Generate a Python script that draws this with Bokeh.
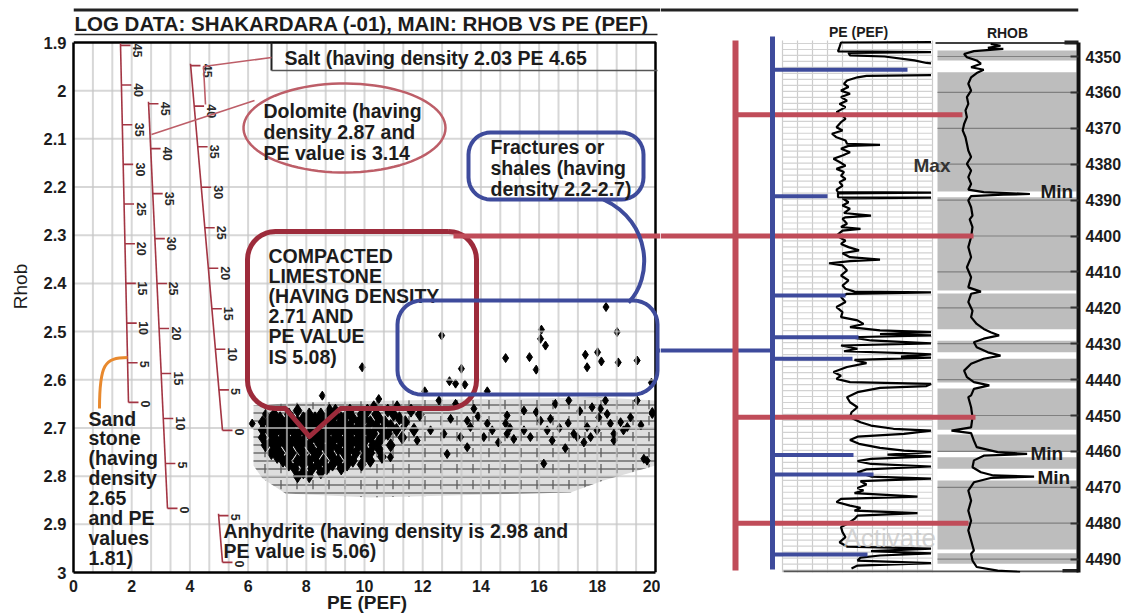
import numpy as np
from bokeh.plotting import figure
from bokeh.models import Range1d, FixedTicker, NumeralTickFormatter
from bokeh.layouts import row
from bokeh.embed import file_html
from bokeh.resources import INLINE
from bokeh.core.properties import value

# ---------------------------------------------------------------- data
title_text = "LOG DATA: SHAKARDARA (-01), MAIN: RHOB VS PE (PEF)"
pe_ticks = [0, 2, 4, 6, 8, 10, 12, 14, 16, 18, 20]
rhob_ticks = [1.9, 2.0, 2.1, 2.2, 2.3, 2.4, 2.5, 2.6, 2.7, 2.8, 2.9, 3.0]
depth_ticks = [4350, 4360, 4370, 4380, 4390, 4400, 4410, 4420, 4430, 4440,
               4450, 4460, 4470, 4480, 4490]
porosity_ticks = [45, 40, 35, 30, 25, 20, 15, 10, 5, 0]
anhydrite_ticks = [5, 0]

# crossplot points (PE, RHOB) - scattered points
sparse_pe = [12.65, 13.33, 12.92, 13.13, 13.45, 12.07, 14.22, 14.85, 15.67, 15.90, 16.08,
             16.05, 16.22, 17.59, 17.65, 18.01, 18.14, 18.30, 18.68, 18.72, 19.37, 19.86,
             9.92, 8.55, 10.49, 10.32, 11.12, 6.60, 6.14, 9.00,
             13.76, 14.90, 15.48, 16.56, 17.02, 17.82, 18.28, 19.37, 19.89,
             12.96, 13.53, 13.64, 14.22, 14.39, 14.85, 14.90, 15.13, 16.05, 16.39, 16.28, 16.45,
             17.19, 17.31, 17.65, 17.99, 18.05, 18.34, 18.45, 18.57, 19.03, 19.14,
             19.60, 19.71, 16.16, 12.84, 13.53, 13.30, 12.73, 14.10, 15.48, 15.70,
             17.77, 17.54, 18.57, 18.11, 18.80,
             11.92, 12.56, 12.27, 10.89, 11.81, 11.35, 19.89, 13.13,
             15.0, 16.7, 17.0, 14.6, 16.9, 18.9, 19.5, 13.9, 15.9, 17.4]
sparse_rhob = [2.508, 2.577, 2.603, 2.608, 2.610, 2.624, 2.624, 2.555, 2.553, 2.579, 2.496,
               2.515, 2.529, 2.548, 2.574, 2.543, 2.562, 2.449, 2.501, 2.564, 2.560, 2.606,
               2.574, 2.633, 2.640, 2.653, 2.653, 2.671, 2.691, 2.660,
               2.660, 2.674, 2.664, 2.650, 2.643, 2.657, 2.643, 2.643, 2.671,
               2.681, 2.685, 2.698, 2.691, 2.705, 2.691, 2.712, 2.723, 2.685, 2.681, 2.705, 2.726,
               2.712, 2.719, 2.698, 2.705, 2.678, 2.671, 2.691, 2.712, 2.698, 2.678,
               2.764, 2.768, 2.774, 2.754, 2.740, 2.719, 2.712, 2.719, 2.705, 2.719,
               2.719, 2.730, 2.726, 2.660, 2.688,
               2.671, 2.643, 2.705, 2.761, 2.726, 2.698, 2.667, 2.650,
               2.700, 2.700, 2.690, 2.730, 2.742, 2.705, 2.694, 2.676, 2.667, 2.665]

# dense limestone cluster: RHOB level and the PE readings at that level
cluster_levels = [2.664, 2.672, 2.680, 2.688, 2.696, 2.704, 2.712, 2.720, 2.728,
                  2.736, 2.744, 2.752, 2.760, 2.768, 2.776, 2.784, 2.792, 2.800]
cluster_pe_rows = [
    [7.7, 8.8, 9.5, 10.1, 10.8, 11.6],
    [6.9, 7.4, 8.1, 8.5, 9.0, 9.4, 9.9, 10.4, 11.0, 11.9],
    [6.8, 7.1, 7.5, 7.9, 8.3, 8.7, 9.2, 9.6, 10.0, 10.5, 11.2],
    [6.5, 6.7, 7.0, 7.3, 7.7, 8.1, 8.5, 8.9, 9.3, 9.8, 10.2, 10.7, 11.4],
    [6.8, 7.2, 7.5, 7.9, 8.3, 8.7, 9.1, 9.5, 9.9, 10.4, 10.9],
    [6.5, 6.7, 7.0, 7.4, 7.8, 8.1, 8.5, 8.9, 9.3, 9.7, 10.1, 10.6, 11.1, 11.7],
    [6.8, 7.2, 7.6, 8.0, 8.4, 8.7, 9.1, 9.5, 9.9, 10.3, 10.8],
    [6.5, 6.9, 7.3, 7.7, 8.2, 8.6, 9.0, 9.4, 9.8, 10.2, 10.6, 11.3],
    [6.8, 7.1, 7.5, 7.9, 8.4, 8.8, 9.2, 9.6, 10.0, 10.5],
    [6.6, 6.9, 7.3, 7.7, 8.1, 8.5, 8.9, 9.4, 9.8, 10.3, 10.9],
    [7.0, 7.4, 7.8, 8.2, 8.7, 9.1, 9.5, 10.0, 10.5],
    [6.8, 7.1, 7.5, 7.9, 8.4, 8.8, 9.3, 9.7, 10.2],
    [7.0, 7.4, 7.9, 8.3, 8.9, 9.4, 10.0, 10.6],
    [7.2, 7.7, 8.1, 8.6, 9.1, 9.6, 10.2],
    [7.4, 7.9, 8.4, 8.9, 9.4, 9.9],
    [7.6, 8.2, 8.7, 9.2],
    [7.9, 8.5],
    [7.7, 8.1],
]

# lithology porosity scales: (PE, RHOB) at first tick and at zero porosity
sandstone_scale = [(1.615, 1.906), (1.890, 2.647)]
dolomite_scale = [(2.577, 2.027), (3.230, 2.867)]
limestone_scale = [(4.021, 1.948), (5.120, 2.705)]
anhydrite_scale = [(4.983, 2.882), (5.120, 2.979)]

NAN = float("nan")
# well log: (depth, PE)
pe_log = [
    (4346.0, 9.9), (4346.1, 3.9), (4347.4, 3.8), (4348.6, 3.7), (4348.8, 9.9), (4349.0, 4.4),
    (4349.7, 4.5), (4350.0, 6.8), (4351.1, 8.8), (4351.8, 9.6), (4351.9, 9.9), (NAN, NAN),
    (4355.2, 9.9), (4355.4, 5.6), (4355.8, 5.0), (4356.7, 4.3), (4357.6, 4.1), (4358.5, 4.4),
    (4359.5, 3.9), (4360.4, 4.5), (4361.3, 3.9), (4362.3, 4.3), (4363.2, 3.8), (4364.1, 4.2),
    (4365.5, 3.6), (4366.4, 4.0), (4367.4, 4.2), (4368.3, 3.9), (4369.7, 3.6), (4370.6, 4.0),
    (4371.5, 3.3), (4372.5, 3.6), (4373.4, 4.2), (4374.3, 4.3), (4374.6, 6.5), (4374.9, 4.4),
    (4375.7, 3.9), (4376.7, 4.5), (4377.6, 4.0), (4378.5, 3.4), (4379.4, 3.8), (4380.4, 4.2),
    (4381.3, 3.6), (4382.2, 4.1), (4383.2, 3.9), (4384.1, 4.2), (4385.0, 3.8), (4386.0, 4.0),
    (4387.1, 3.6), (4387.8, 3.7), (4387.9, 9.9), (4388.1, 3.7), (4389.2, 3.7), (4389.3, 9.9),
    (4389.5, 4.0), (4390.6, 4.4), (4391.5, 4.0), (4392.4, 4.5), (4393.6, 4.1), (4394.3, 5.9),
    (4394.8, 4.2), (4395.2, 4.0), (4396.6, 4.3), (4397.5, 3.9), (4398.0, 5.2), (4398.5, 4.0),
    (4399.9, 3.6), (4401.3, 4.2), (4402.2, 3.9), (4403.1, 4.4), (4404.0, 5.1), (4404.8, 4.0),
    (4405.9, 4.5), (4406.6, 6.5), (4407.0, 4.5), (4407.6, 3.1), (4408.2, 4.0), (4409.6, 4.3),
    (4411.0, 3.9), (4412.4, 4.4), (4413.8, 4.0), (4414.7, 4.2), (4415.5, 4.8), (4415.7, 9.9),
    (4416.1, 4.3), (4417.0, 3.9), (4418.4, 4.2), (4419.8, 3.6), (4421.2, 4.0), (4422.6, 3.9),
    (4423.5, 5.0), (4424.5, 5.4), (4425.4, 4.5), (4426.3, 6.5), (4426.8, 9.9), (4427.3, 6.5),
    (4427.7, 9.9), (4428.2, 4.5), (4429.1, 5.9), (4429.9, 9.9), (4430.5, 3.9), (4431.4, 5.0),
    (4432.1, 4.1), (4432.6, 8.1), (4433.0, 9.9), (4433.6, 7.9), (4433.9, 9.9), (4434.5, 4.8),
    (4435.4, 5.6), (4436.5, 4.3), (4437.9, 3.4), (4438.9, 3.9), (4439.8, 3.6), (4440.7, 4.5),
    (4441.2, 9.9), (4441.8, 9.6), (4442.3, 6.5), (4443.5, 5.0), (4444.9, 4.3), (4446.3, 4.5),
    (4447.7, 5.0), (4449.1, 4.6), (4450.5, 4.5), (4451.9, 5.2), (4452.8, 5.9), (4453.7, 7.4),
    (4454.2, 9.9), (4455.1, 8.1), (4455.9, 5.0), (4456.8, 4.5), (4457.9, 5.1), (4459.0, 6.5),
    (4459.8, 8.1), (4460.2, 9.9), (4460.9, 7.0), (4461.4, 9.9), (4462.1, 5.9), (4462.7, 5.0),
    (4463.5, 5.9), (4464.2, 9.9), (4465.0, 5.6), (4465.8, 5.0), (4467.0, 5.9), (4467.6, 9.9),
    (4468.3, 5.2), (4469.2, 5.6), (4470.2, 5.0), (4470.9, 5.4), (4471.6, 4.8), (4472.6, 9.0),
    (4473.2, 3.9), (4474.1, 3.6), (4475.1, 4.5), (4475.7, 5.2), (4476.5, 4.8), (4477.2, 9.0),
    (4477.9, 5.0), (4478.8, 4.8), (4480.2, 4.3), (4481.1, 3.9), (4482.5, 4.0), (4483.9, 4.2),
    (4485.3, 3.8), (4486.5, 4.3), (4487.1, 9.9), (4487.8, 5.9), (4488.4, 9.9), (4489.0, 6.5),
    (4489.6, 5.2), (4490.4, 5.0), (4491.1, 9.9), (4491.8, 5.0), (4492.6, 4.6),
]
# well log: (depth, RHOB)
rhob_log = [
    (4346.5, 2.57), (4347.0, 2.50), (4347.6, 2.59), (4347.9, 2.48), (4348.5, 2.69), (4349.3, 2.76),
    (4350.2, 2.74), (4351.1, 2.67), (4352.0, 2.64), (4353.0, 2.71), (4353.7, 2.62), (4354.6, 2.67),
    (4355.8, 2.71), (4357.6, 2.73), (4359.5, 2.71), (4361.3, 2.74), (4363.2, 2.73), (4365.0, 2.75),
    (4366.9, 2.74), (4368.8, 2.76), (4370.6, 2.77), (4372.5, 2.75), (4374.3, 2.74), (4376.2, 2.73),
    (4378.0, 2.71), (4379.9, 2.74), (4381.8, 2.71), (4383.6, 2.73), (4385.5, 2.71), (4387.1, 2.73),
    (4387.8, 2.62), (4388.3, 2.29), (4388.5, 2.48), (4388.9, 2.71), (4390.1, 2.73), (4392.0, 2.71),
    (4394.3, 2.70), (4395.4, 2.72), (4397.5, 2.70), (4400.3, 2.71), (4403.1, 2.73), (4405.9, 2.71),
    (4408.7, 2.74), (4411.5, 2.71), (4414.3, 2.73), (4415.5, 2.64), (4416.1, 2.71), (4418.4, 2.73),
    (4420.8, 2.70), (4422.6, 2.71), (4424.5, 2.67), (4425.9, 2.62), (4426.8, 2.57), (4427.7, 2.51),
    (4428.6, 2.62), (4429.6, 2.69), (4431.0, 2.67), (4432.4, 2.59), (4433.3, 2.50), (4434.2, 2.62),
    (4435.6, 2.71), (4437.5, 2.76), (4439.3, 2.74), (4440.7, 2.69), (4441.6, 2.58), (4442.6, 2.69),
    (4444.4, 2.71), (4444.9, 2.73), (4447.7, 2.71), (4450.5, 2.70), (4453.3, 2.71), (4454.2, 2.85),
    (4454.9, 2.71), (4457.0, 2.69), (4458.8, 2.67), (4460.2, 2.52), (4460.7, 2.31), (4461.2, 2.62),
    (4462.5, 2.69), (4464.4, 2.70), (4465.8, 2.64), (4466.7, 2.55), (4467.0, 2.26), (4467.4, 2.57),
    (4468.6, 2.69), (4470.9, 2.73), (4473.7, 2.71), (4476.5, 2.73), (4479.3, 2.71), (4482.0, 2.73),
    (4484.8, 2.71), (4487.6, 2.69), (4488.5, 2.71), (4490.4, 2.70), (4492.2, 2.67), (4493.2, 2.52),
    (4493.6, 2.36),
]
# shaded (dense) intervals of the RHOB track
shade_top = [4348.3, 4354.4, 4389.2, 4416.0, 4429.2, 4434.2, 4442.5, 4455.3, 4461.6, 4468.1, 4488.4]
shade_bottom = [4351.1, 4387.6, 4415.2, 4426.0, 4432.4, 4440.8, 4454.0, 4460.0, 4464.8, 4487.3, 4491.3]

# depth markers linking the crossplot to the log
red_marks = [4366.2, 4450.5, 4480.0]
blue_marks = [4353.7, 4388.9, 4416.6, 4428.2, 4434.2, 4461.0, 4466.4, 4488.7]

# ---------------------------------------------------------------- layout helpers (page px -> units)
FONT = "Liberation Sans"


def lx(px):
    return (px - 73.0) / 29.1


def ly(py):
    return 1.9 + (py - 42.0) / 481.8


def rx(px):
    return (px - 782.0) / 15.0


def ry(py):
    return 4350.0 + (py - 56.0) / 3.59


def rhob_x(px):
    return 2.95 - (px - 937.0) / 140.0


RED_BOX = "#9d2b3b"
RED_LINK = "#c04c59"
BLUE = "#3e4b9c"
ORANGE = "#e8892e"
SCALE_RED = "#a33543"
ELLIPSE = "#bd5e68"
TXT = "#1c1c1c"


def add_text(p, x, y, s, size="19.5px", color=TXT, align="left", style="bold",
             angle=0.0, alpha=1.0, baseline="middle"):
    p.text(x=[x], y=[y], text=[s], text_font=value(FONT), text_font_size=size,
           text_font_style=style, text_color=color, text_align=align,
           text_baseline=baseline, angle=angle, text_alpha=alpha)


def rounded(x0, y0, x1, y1, r, notch=None):
    pts = []

    def arc(cx, cy, a0, a1):
        for a in np.linspace(a0, a1, 10):
            pts.append((cx + r * np.cos(a), cy + r * np.sin(a)))

    arc(x1 - r, y0 + r, -np.pi / 2, 0)
    arc(x1 - r, y1 - r, 0, np.pi / 2)
    if notch:
        pts.extend(notch)
    arc(x0 + r, y1 - r, np.pi / 2, np.pi)
    arc(x0 + r, y0 + r, np.pi, 1.5 * np.pi)
    pts.append(pts[0])
    return [lx(a) for a, b in pts], [ly(b) for a, b in pts]


# ================================================================ crossplot figure
p1 = figure(width=660, height=616, x_range=Range1d(0, lx(660)), y_range=Range1d(3.0, ly(0)),
            toolbar_location=None, output_backend="svg", title=None,
            min_border_left=73, min_border_right=0, min_border_top=0, min_border_bottom=44)
p1.outline_line_color = None
p1.grid.visible = False
p1.background_fill_color = "white"

# limestone lithology (brick) region
brick = [(253, 405), (253, 465), (262, 478), (285, 493), (370, 497), (570, 492), (603, 480),
         (655, 465), (655, 400), (600, 397), (450, 399), (300, 402)]
bx = [lx(a) for a, b in brick]
by = [ly(b) for a, b in brick]
p1.patch(bx, by, fill_color="#dedede", line_color=None, hatch_pattern="horizontal_line",
         hatch_color="#5a5a5a", hatch_scale=8, hatch_weight=1.3)
p1.patch(bx, by, fill_color=None, fill_alpha=0, line_color=None, hatch_pattern="vertical_dash",
         hatch_color="#5a5a5a", hatch_scale=16, hatch_weight=1.3)

# points
cl_pe, cl_rhob = [], []
for lev, pes in zip(cluster_levels, cluster_pe_rows):
    cl_pe.extend(pes)
    cl_rhob.extend([lev] * len(pes))
p1.scatter(cl_pe, cl_rhob, marker="diamond", size=13, color="black")
p1.scatter(sparse_pe, sparse_rhob, marker="diamond", size=9, color="black")

# grid (drawn over points as in the original)
gx = [k * 2.0 / 3.0 for k in range(1, 30)]
p1.multi_line([[g, g] for g in gx], [[1.9, 3.0] for g in gx], line_color="#c6c6c6",
              line_width=2, line_alpha=0.7)
gy = rhob_ticks[1:-1]
p1.multi_line([[0, 20] for g in gy], [[g, g] for g in gy], line_color="#c6c6c6",
              line_width=2, line_alpha=0.7)

# frame top/right
p1.line([0, 20, 20], [1.9, 1.9, 3.0], line_color="black", line_width=2.5)
# page border (top)
p1.line([0, lx(660)], [ly(9.5), ly(9.5)], line_color="#222222", line_width=3)

# title
add_text(p1, lx(74), ly(23), title_text, size="20.5px")
p1.line([lx(74), lx(657)], [ly(34), ly(34)], line_color="#222222", line_width=1.6)

# porosity scales
tick_len = 10 / 29.1
for (top, zero), ticks in [((sandstone_scale[0], sandstone_scale[1]), porosity_ticks),
                           ((dolomite_scale[0], dolomite_scale[1]), porosity_ticks),
                           ((limestone_scale[0], limestone_scale[1]), porosity_ticks),
                           ((anhydrite_scale[0], anhydrite_scale[1]), anhydrite_ticks)]:
    v0 = ticks[0]
    xs = [top[0] + (v0 - v) / v0 * (zero[0] - top[0]) for v in ticks]
    ys = [top[1] + (v0 - v) / v0 * (zero[1] - top[1]) for v in ticks]
    p1.line([xs[0], xs[-1]], [ys[0] - 0.004, ys[-1]], line_color=SCALE_RED, line_width=1.6)
    p1.segment(x0=xs, y0=ys, x1=[x + tick_len for x in xs], y1=ys, line_color=SCALE_RED,
               line_width=1.6)
    p1.text(x=[x + 17 / 29.1 for x in xs], y=[y - 0.004 for y in ys], text=[str(v) for v in ticks],
            text_font=value(FONT), text_font_size="12.5px", text_font_style="bold",
            text_color="#2a2a2a", text_align="left", text_baseline="middle", angle=-np.pi / 2)

# salt annotation
p1.line([lx(271), lx(271)], [ly(42), ly(70)], line_color="#222222", line_width=2)
p1.line([lx(271), lx(657)], [ly(70), ly(70)], line_color="#555555", line_width=1.6)
p1.line([lx(271), lx(203), lx(205)], [ly(57), ly(66), ly(104)], line_color=ELLIPSE, line_width=1.6)
add_text(p1, lx(284), ly(57), "Salt (having density 2.03 PE 4.65")

# dolomite annotation
t = np.linspace(0, 2 * np.pi, 90)
p1.line([lx(344 + 101 * np.cos(a)) for a in t], [ly(127.5 + 44.5 * np.sin(a)) for a in t],
        line_color=ELLIPSE, line_width=2.5)
p1.line([lx(254), lx(151)], [ly(100), ly(134)], line_color=ELLIPSE, line_width=1.6)
for i, s in enumerate(["Dolomite (having", "density 2.87 and", "PE value is 3.14"]):
    add_text(p1, lx(263), ly(110 + 21 * i), s)

# compacted limestone box
cx_, cy_ = rounded(247, 231, 476, 408, 28, notch=[(340, 408), (309, 436), (285, 408)])
p1.line(cx_, cy_, line_color=RED_BOX, line_width=5, line_join="round")
for i, s in enumerate(["COMPACTED", "LIMESTONE", "(HAVING DENSITY", "2.71 AND", "PE VALUE",
                       "IS 5.08)"]):
    add_text(p1, lx(268), ly(255 + 20.2 * i), s)
p1.line([lx(453), lx(668)], [ly(235.5), ly(235.5)], line_color=RED_LINK, line_width=5)

# fractures / shales boxes
fx, fy = rounded(468, 132, 643, 199, 22)
p1.line(fx, fy, line_color=BLUE, line_width=4)
p1.bezier(x0=[lx(603)], y0=[ly(199)], x1=[lx(628)], y1=[ly(302)], cx0=[lx(652)], cy0=[ly(222)],
          cx1=[lx(652)], cy1=[ly(278)], line_color=BLUE, line_width=4)
wx, wy = rounded(397, 300, 657, 394, 24)
p1.line(wx, wy, line_color=BLUE, line_width=4)
p1.line([lx(657), lx(668)], [ly(350), ly(350)], line_color=BLUE, line_width=4)
for i, s in enumerate(["Fractures or", "shales (having", "density 2.2-2.7)"]):
    add_text(p1, lx(490), ly(146 + 21 * i), s)

# sandstone annotation
p1.bezier(x0=[lx(127)], y0=[ly(357)], x1=[lx(99)], y1=[ly(408)], cx0=[lx(104)], cy0=[ly(357)],
          cx1=[lx(99)], cy1=[ly(364)], line_color=ORANGE, line_width=3)
for i, s in enumerate(["Sand", "stone", "(having", "density", "2.65", "and PE", "values", "1.81)"]):
    add_text(p1, lx(88), ly(418 + 19.9 * i), s)

# anhydrite annotation
add_text(p1, lx(223), ly(530), "Anhydrite (having density is 2.98 and")
add_text(p1, lx(223), ly(550), "PE value is 5.06)")

# axes
xa = p1.xaxis[0]
xa.ticker = FixedTicker(ticks=pe_ticks)
xa.bounds = (0, 20)
xa.axis_line_color = "black"
xa.axis_line_width = 2.5
xa.major_tick_in = 0
xa.major_tick_out = 0
xa.minor_tick_in = 0
xa.minor_tick_out = 0
xa.major_tick_line_color = None
xa.minor_tick_line_color = None
xa.major_label_text_font = FONT
xa.major_label_text_font_size = "16px"
xa.major_label_text_font_style = "bold"
xa.major_label_text_color = TXT
xa.major_label_standoff = 7
xa.axis_label = "PE (PEF)"
xa.axis_label_text_font = FONT
xa.axis_label_text_font_size = "19px"
xa.axis_label_text_font_style = "bold"
xa.axis_label_text_color = TXT
xa.axis_label_standoff = -3

ya = p1.yaxis[0]
ya.ticker = FixedTicker(ticks=rhob_ticks)
ya.formatter = NumeralTickFormatter(format="0.[0]")
ya.bounds = (1.9, 3.0)
ya.axis_line_color = "black"
ya.axis_line_width = 2.5
ya.major_tick_in = 0
ya.major_tick_out = 0
ya.minor_tick_in = 0
ya.minor_tick_out = 0
ya.major_tick_line_color = None
ya.minor_tick_line_color = None
ya.major_label_text_font = FONT
ya.major_label_text_font_size = "16.5px"
ya.major_label_text_font_style = "bold"
ya.major_label_text_color = TXT
ya.major_label_standoff = 7
ya.axis_label = "Rhob"
ya.axis_label_text_font = FONT
ya.axis_label_text_font_size = "19px"
ya.axis_label_text_font_style = "normal"
ya.axis_label_text_color = TXT
ya.axis_label_standoff = 10

# ================================================================ well log figure
p2 = figure(width=472, height=616, x_range=Range1d(rx(660), rx(1078)),
            y_range=Range1d(ry(572), ry(0)), x_axis_location=None, y_axis_location="right",
            toolbar_location=None, output_backend="svg", title=None,
            min_border_left=0, min_border_right=54, min_border_top=0, min_border_bottom=44)
p2.extra_x_ranges = {"rhob": Range1d(rhob_x(660), rhob_x(1078))}
p2.outline_line_color = None
p2.grid.visible = False

# page border (top)
p2.line([rx(660), rx(1078)], [ry(9.5), ry(9.5)], line_color="#222222", line_width=3)

# PE track grid
pe_grid_x = list(range(0, 11))
p2.multi_line([[g, g] for g in pe_grid_x], [[ry(40), ry(572)] for g in pe_grid_x],
              line_color="#cccccc", line_width=1.2)
pe_grid_y = np.arange(ry(43), ry(572), 10.0 / 6.0)
p2.multi_line([[0, 10] for g in pe_grid_y], [[g, g] for g in pe_grid_y],
              line_color="#d2d2d2", line_width=1.2)

# RHOB track shading
p2.quad(left=rx(937), right=rx(1076), top=shade_top, bottom=shade_bottom, fill_color="#bdbdbd",
        line_color=None)
p2.multi_line([[rx(937), rx(1078)] for d in depth_ticks], [[d, d] for d in depth_ticks],
              line_color="#808080", line_width=1.2)
p2.line([rx(935), rx(1078)], [ry(42.5), ry(42.5)], line_color="black", line_width=1.5)
p2.line([rx(783), rx(1063)], [ry(571), ry(571)], line_color="#555555", line_width=2)

# curves
p2.line([v for d, v in pe_log], [d for d, v in pe_log], line_color="black", line_width=2.2)
p2.line([v for d, v in rhob_log], [d for d, v in rhob_log], x_range_name="rhob",
        line_color="black", line_width=2.2)

# link lines
p2.line([rx(660), rx(973)], [ry(235.5), ry(235.5)], line_color=RED_LINK, line_width=5)
red_end = [rx(962), rx(975), rx(968)]
p2.segment(x0=[rx(735)] * len(red_marks), y0=red_marks, x1=red_end, y1=red_marks,
           line_color=RED_LINK, line_width=5)
p2.line([rx(660), rx(772)], [ry(350), ry(350)], line_color=BLUE, line_width=4)
blue_end = [rx(907), rx(827), rx(845), rx(858), rx(852), rx(853), rx(873), rx(867)]
p2.segment(x0=[rx(772)] * len(blue_marks), y0=blue_marks, x1=blue_end, y1=blue_marks,
           line_color=BLUE, line_width=4)
p2.line([rx(735), rx(735)], [ry(40), ry(570)], line_color=RED_LINK, line_width=6)
p2.line([rx(772), rx(772)], [ry(36), ry(569)], line_color=BLUE, line_width=5)

# depth axis caps
p2.line([rx(1064), rx(1080)], [ry(42), ry(42)], line_color="#222222", line_width=4)
p2.line([rx(1062), rx(1080)], [ry(570.5), ry(570.5)], line_color="#222222", line_width=4)

# labels
add_text(p2, rx(858), ry(31), "PE (PEF)", size="14px", align="center")
add_text(p2, rx(1007), ry(32), "RHOB", size="14px", align="center")
add_text(p2, rx(913), ry(165), "Max", size="19px", color="#333333")
add_text(p2, rx(1040), ry(190.5), "Min", size="19px")
add_text(p2, rx(1030), ry(453), "Min", size="19px")
add_text(p2, rx(1037), ry(477), "Min", size="19px")
add_text(p2, rx(843), ry(537), "Activate", size="26px", color="#c8c8c8", style="normal", alpha=0.8)

da = p2.yaxis[0]
da.ticker = FixedTicker(ticks=depth_ticks)
da.bounds = (ry(42), ry(573))
da.axis_line_color = "#111111"
da.axis_line_width = 4
da.major_tick_in = 8
da.major_tick_out = 0
da.major_tick_line_width = 2
da.major_tick_line_color = "#333333"
da.minor_tick_line_color = None
da.minor_tick_in = 0
da.minor_tick_out = 0
da.major_label_text_font = FONT
da.major_label_text_font_size = "16px"
da.major_label_text_font_style = "bold"
da.major_label_text_color = TXT
da.major_label_standoff = 7

layout = row(p1, p2)
open("out.html", "w").write(file_html(layout, INLINE))
